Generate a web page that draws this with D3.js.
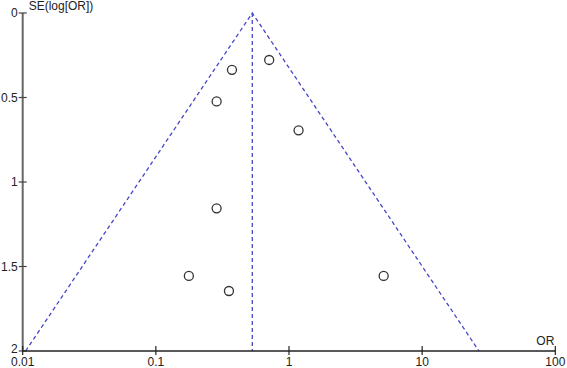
<!DOCTYPE html>
<html>
<head>
<meta charset="utf-8">
<script src="https://cdn.jsdelivr.net/npm/d3@7"></script>
<style>
  body { margin: 0; background: #fff; }
  text { font-family: "Liberation Sans", Arial, sans-serif; font-size: 12px; fill: #222; }
</style>
</head>
<body>
<svg id="chart" width="567" height="368"></svg>
<script>
// study estimates
const studyOR = [0.71, 0.373, 0.286, 1.18, 0.286, 0.177, 0.354, 5.14];
const studySE = [0.278, 0.336, 0.523, 0.694, 1.156, 1.556, 1.645, 1.556];
const pooledOR = 0.53;
const xTicks = [0.01, 0.1, 1, 10, 100];
const yTicks = [0, 0.5, 1, 1.5, 2];

const svg = d3.select('#chart');

const x = d3.scaleLog().domain([0.01, 100]).range([22.7, 555.3]);
const y = d3.scaleLinear().domain([0, 2]).range([13, 351]);

// pseudo 95% confidence limits
const z = 1.96;
const lnP = Math.log(pooledOR);
const seMax = 2;
const funnel = [
  [Math.exp(lnP - z * seMax), seMax],
  [pooledOR, 0],
  [Math.exp(lnP + z * seMax), seMax]
];

const line = d3.line().x(d => x(d[0])).y(d => y(d[1]));

svg.append('path')
  .attr('d', line(funnel))
  .attr('fill', 'none')
  .attr('stroke', '#4646c8')
  .attr('stroke-width', 1.3)
  .attr('stroke-dasharray', '4,3');

svg.append('line')
  .attr('x1', x(pooledOR)).attr('x2', x(pooledOR))
  .attr('y1', y(0)).attr('y2', y(2))
  .attr('stroke', '#4646c8')
  .attr('stroke-width', 1.3)
  .attr('stroke-dasharray', '4,3');

// y axis
const yAxis = svg.append('g');
yAxis.append('line')
  .attr('x1', x(0.01)).attr('x2', x(0.01))
  .attr('y1', y(0)).attr('y2', y(2))
  .attr('stroke', '#666').attr('stroke-width', 2);
yAxis.selectAll('line.tick').data(yTicks).enter().append('line')
  .attr('class', 'tick')
  .attr('x1', x(0.01) - 4).attr('x2', x(0.01) + 4)
  .attr('y1', d => y(d)).attr('y2', d => y(d))
  .attr('stroke', '#444').attr('stroke-width', 1.2);
yAxis.selectAll('text').data(yTicks).enter().append('text')
  .attr('x', x(0.01) - 5)
  // the last label sits a touch higher so it clears the "0.01" below
  .attr('y', d => y(d) + (d === 2 ? 2 : 4))
  .attr('text-anchor', 'end')
  .text(d => d);

// x axis
const xAxis = svg.append('g');
xAxis.append('line')
  .attr('x1', x(0.01)).attr('x2', x(100))
  .attr('y1', y(2)).attr('y2', y(2))
  .attr('stroke', '#222').attr('stroke-width', 1.5);
xAxis.selectAll('line.tick').data(xTicks).enter().append('line')
  .attr('class', 'tick')
  .attr('x1', d => x(d)).attr('x2', d => x(d))
  .attr('y1', y(2) - 5).attr('y2', y(2) + 4)
  .attr('stroke', '#222').attr('stroke-width', 1.2);
xAxis.selectAll('text').data(xTicks).enter().append('text')
  .attr('x', d => x(d))
  .attr('y', y(2) + 15)
  .attr('text-anchor', 'middle')
  .text(d => d);

svg.append('text')
  .attr('x', x(0.01) + 6).attr('y', 10)
  .text('SE(log[OR])');

svg.append('text')
  .attr('x', x(100) - 1).attr('y', y(2) - 6)
  .attr('text-anchor', 'end')
  .text('OR');

// studies
svg.selectAll('circle').data(studyOR).enter().append('circle')
  .attr('cx', d => x(d))
  .attr('cy', (d, i) => y(studySE[i]))
  .attr('r', 4.5)
  .attr('fill', '#fff')
  .attr('stroke', '#333')
  .attr('stroke-width', 1.3);
</script>
</body>
</html>
